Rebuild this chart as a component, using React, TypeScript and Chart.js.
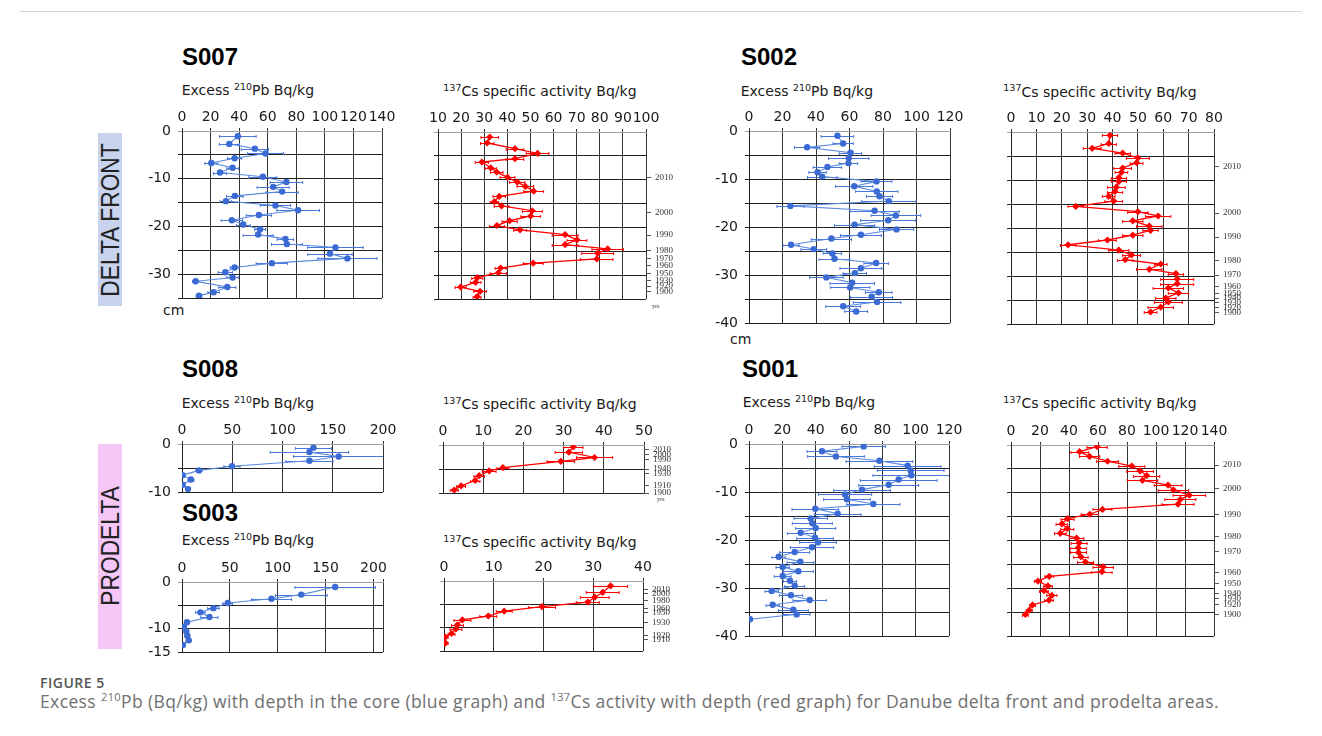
import React, { useEffect, useRef } from 'react';
import { Chart, registerables } from 'chart.js';
Chart.register(...registerables);

// ---------------- DATA ----------------
// S007 (delta front)
const S007_PB_DEPTH = [-1.1,-2.7,-3.7,-4.7,-5.7,-6.7,-7.7,-8.7,-9.6,-10.7,-11.7,-12.7,-13.6,-14.7,-15.6,-16.6,-17.6,-18.7,-19.6,-20.6,-21.7,-22.6,-23.7,-24.4,-25.7,-26.7,-27.7,-28.6,-29.6,-30.7,-31.5,-32.7,-33.8,-34.5];
const S007_PB_VALUE = [39.1,33.1,51.0,58.5,36.8,20.5,35.4,26.6,56.6,73.1,63.8,70.1,37.0,30.7,65.4,81.3,53.8,34.9,42.9,54.7,53.3,72.4,73.4,107.4,103.6,115.8,62.9,36.8,30.3,35.4,9.5,31.7,22.1,11.9];
const S007_PB_ERR = [12.8,7,9.5,12.5,5,4.5,4,4.5,9.8,11.4,11.2,11.3,5.8,4,10.6,14.9,8.8,7.5,4.9,3.8,10.5,5.8,10.8,19.5,15.5,20.7,11,3,5,4,2,6,4,2];
const S007_CS_DEPTH = [-1.05,-2.3,-3.5,-4.5,-5.6,-6.3,-7.5,-8.4,-9.5,-10.5,-11.4,-12.4,-13.5,-14.6,-15.5,-16.5,-17.6,-18.6,-19.6,-20.5,-21.5,-22.6,-23.6,-24.5,-25.4,-26.6,-27.5,-28.5,-29.5,-30.5,-31.5,-32.5,-33.4,-34.5];
const S007_CS_VALUE = [32.4,31.3,43.3,53.1,43.3,29.0,32.8,35.4,40.1,44.3,47.8,51.4,36.5,34.4,37.5,50.8,50.1,41.0,35.5,45.5,65.0,70.1,65.0,83.4,79.1,78.7,51.2,37.1,36.1,27.0,26.3,19.8,28.2,26.9];
const S007_CS_ERR = [3.8,2.9,3.8,4.9,3.8,2.9,2.4,2.7,3.2,3.3,3.6,4.3,2.7,1.8,3.2,4.3,4.2,3.3,3.2,2.7,5.6,4.3,5.6,6.8,6.9,7,4.3,2.4,3.5,2.4,2.3,2.4,2.7,1.7];
const S007_YEARS = ['2010','2000','1990','1980','1970','1960','1950','1930','1920','1900'];
const S007_YEAR_DEPTH = [-9.6,-16.9,-21.6,-24.8,-26.6,-28.0,-29.6,-31.2,-32.3,-33.5];

// S002 (delta front)
const S002_PB_DEPTH = [-1.0,-2.6,-3.4,-4.5,-5.6,-6.7,-7.5,-8.6,-9.5,-10.5,-11.5,-12.6,-13.6,-14.6,-15.6,-16.6,-17.6,-18.6,-19.5,-20.5,-21.6,-22.4,-23.7,-24.6,-25.5,-26.6,-27.5,-28.6,-29.6,-30.5,-31.6,-32.6,-33.6,-34.5,-35.6,-36.5,-37.6];
const S002_PB_VALUE = [52.8,56.2,34.7,60.6,59.6,59.4,46.8,40.9,43.7,76.1,62.8,76.3,77.9,83.5,24.7,75.0,87.7,83.1,63.0,88.1,66.8,49.2,25.1,38.7,49.8,51.0,75.9,66.8,63.2,46.2,61.6,60.4,77.5,73.2,76.5,56.2,64.0];
const S002_PB_ERR = [9.7,6,7.5,6.7,12,5.5,8.5,5.2,8.8,9.2,11.2,12.6,7.8,16.2,8,14.7,14.8,16.4,12,10.2,12.2,12,4.8,7.7,5.5,9.2,7.3,12.5,7,10,13.3,11.8,7.9,12.5,14.2,10.4,6.8];
const S002_CS_DEPTH = [-0.7,-2.4,-3.4,-4.4,-5.4,-6.4,-7.5,-8.4,-9.5,-10.3,-11.5,-12.4,-13.4,-14.4,-15.5,-16.6,-17.5,-18.5,-19.6,-20.5,-21.5,-22.5,-23.5,-24.6,-25.6,-26.6,-27.5,-28.6,-29.5,-30.6,-31.6,-32.5,-33.5,-34.6,-35.4,-36.5,-37.5];
const S002_CS_VALUE = [39,38.5,32,44,50,49.5,44,43.5,42.5,42.5,41.5,41,38.5,40.5,25.5,50,58,48,54.5,55,48,38,22.5,42.5,47.5,45,59,54.5,65,65.5,65.5,62,66,61,62,59,55];
const S002_CS_ERR = [3,3,3.5,3,4.5,2.5,3.5,2.5,3,3,3.5,3,2.5,3.5,3,4,5,4,5,3,4,3.5,3,4,3.5,3,2.5,5,3,6.5,6.5,6,4,4,5.5,5,2.5];
const S002_YEARS = ['2010','2000','1990','1980','1970','1960','1950','1940','1930','1920','1900'];
const S002_YEAR_DEPTH = [-7.2,-16.9,-21.9,-26.8,-29.8,-32.2,-33.6,-34.6,-35.6,-36.6,-37.6];

// S008 (prodelta)
const S008_PB_DEPTH = [-0.76,-1.67,-2.6,-3.5,-4.65,-5.5,-6.5,-7.4,-8.5,-9.4];
const S008_PB_VALUE = [130.8,126.8,155.9,126.8,49.7,16.9,0.7,8.9,0.7,6.0];
const S008_PB_ERR = [18,39,45,23.5,8,3,1,3,1,1];
const S008_CS_DEPTH = [-0.4,-1.5,-2.6,-3.4,-4.7,-5.4,-6.4,-7.4,-8.5,-9.4];
const S008_CS_VALUE = [32.4,31.3,37.7,29.3,14.9,11.5,9.0,8.0,4.5,2.8];
const S008_CS_ERR = [2.4,3.4,4.5,3.4,1.5,1.7,1.3,1.2,1.1,1.0];
const S008_YEARS = ['2010','2000','1990','1940','1930','1910','1900'];
const S008_YEAR_DEPTH = [-1.0,-2.0,-3.1,-5.0,-6.0,-8.4,-10.0];

// S003 (prodelta)
const S003_PB_DEPTH = [-1.06,-2.7,-3.6,-4.5,-5.6,-6.5,-7.5,-8.6,-9.6,-10.6,-11.5,-12.5,-13.5];
const S003_PB_VALUE = [160,124.6,93.5,47.8,32.8,19.2,28.6,5.2,2.1,4.5,5.6,7.0,1.0];
const S003_PB_ERR = [42,27,21,5,6,5,9,2,1.5,2,2.5,2.5,1];
const S003_CS_DEPTH = [-1.04,-2.43,-3.47,-4.51,-5.49,-6.46,-7.5,-8.33,-9.38,-10.28,-11.25,-12.0,-13.3];
const S003_CS_VALUE = [33.5,31.9,30.3,28.9,19.7,12.1,8.9,3.7,2.7,2.4,1.5,0.3,0.3];
const S003_CS_ERR = [3.4,3.3,2.9,2.3,2.7,1.6,1.7,1.7,1.2,1.2,0.7,0.5,0.5];
const S003_YEARS = ['2010','2000','1980','1960','1950','1930','1920','1910'];
const S003_YEAR_DEPTH = [-1.9,-2.7,-4.2,-5.9,-6.7,-8.9,-11.7,-12.5];

// S001 (prodelta)
const S001_PB_DEPTH = [-0.5,-1.5,-2.6,-3.5,-4.5,-5.5,-6.5,-7.4,-8.5,-9.5,-10.5,-11.5,-12.5,-13.5,-14.5,-15.5,-16.5,-17.5,-18.5,-19.5,-20.5,-21.5,-22.5,-23.5,-24.5,-25.6,-26.5,-27.5,-28.5,-29.5,-30.6,-31.5,-32.5,-33.5,-34.5,-35.5,-36.5];
const S001_PB_VALUE = [68.8,43.8,52.2,78.2,95.2,97.0,97.4,89.8,83.8,67.8,57.6,58.8,74.6,39.8,53.2,37.0,38.0,40.0,31.0,39.6,41.4,37.8,27.4,17.8,30.8,20.2,29.6,20.2,24.6,27.4,13.6,25.2,36.4,14.2,26.6,28.6,0.6];
const S001_PB_ERR = [13,9,17,20,20,20,23,23,18,17,16,14,16,14,14,10,12,12,8,11,11,13,9,4,8,4,9,5,4,6,4,7,10,4,9,8,1];
const S001_CS_DEPTH = [-0.35,-1.4,-2.4,-3.4,-4.4,-5.4,-6.4,-7.4,-8.4,-9.4,-10.5,-11.4,-12.4,-13.5,-14.5,-15.4,-16.5,-17.5,-18.5,-19.5,-20.5,-21.5,-22.5,-23.4,-24.5,-25.5,-26.5,-27.5,-28.5,-29.5,-30.5,-31.5,-32.5,-33.5,-34.6,-35.5];
const S001_CS_VALUE = [59.4,47.3,54.2,66.6,83.3,89.0,93.6,90.7,108.3,112.0,123.0,116.8,115.2,63.1,54.4,39.0,35.1,38.8,34.0,45.2,47.0,46.4,46.6,48.2,51.4,63.6,62.7,26.4,18.6,25.5,22.7,28.2,26.2,14.9,12.6,9.9];
const S001_CS_ERR = [7,6,7,7.5,9,9.2,9,10.5,9.5,10.5,11.2,10.7,11,6.5,6,4.5,4,4.5,4,5,5.5,5.5,5.5,5,5.5,7,7,3,2.5,3,3,3.5,3,2,2,2];
const S001_YEARS = ['2010','2000','1990','1980','1970','1960','1950','1940','1930','1920','1900'];
const S001_YEAR_DEPTH = [-4.2,-9.2,-14.5,-19.1,-22.4,-26.7,-29.0,-31.1,-32.2,-33.4,-35.6];

// axis tick labels
const X_PB_140 = [0,20,40,60,80,100,120,140];
const X_PB_120 = [0,20,40,60,80,100,120];
const X_PB_200 = [0,50,100,150,200];
const X_CS_S007 = [10,20,30,40,50,60,70,80,90,100];
const X_CS_S002 = [0,10,20,30,40,50,60,70,80];
const X_CS_S008 = [0,10,20,30,40,50];
const X_CS_S003 = [0,10,20,30,40];
const X_CS_S001 = [0,20,40,60,80,100,120,140];
const Y_LABELS_35 = [0,-10,-20,-30];
const Y_LABELS_40 = [0,-10,-20,-30,-40];
const Y_LABELS_10 = [0,-10];
const Y_LABELS_15 = [0,-10,-15];

// ---------------- CHART ----------------
type PanelCfg = {
  l: number; t: number; w: number; h: number;
  xMin: number; xMax: number; xTicks: number[];
  yMin: number; yLabels: number[];
  depth: number[]; value: number[]; err: number[];
  kind: 'pb' | 'cs';
  years?: string[]; yearDepth?: number[];
};

const LW = 45, TH = 30, BH = 8;

const errorBarPlugin = {
  id: 'hErrBars',
  beforeDatasetsDraw(chart: any) {
    const { ctx, chartArea, scales } = chart;
    ctx.save();
    ctx.beginPath();
    ctx.rect(chartArea.left, chartArea.top - 2, chartArea.width, chartArea.height + 4);
    ctx.clip();
    chart.data.datasets.forEach((ds: any) => {
      if (!ds.errs) return;
      ctx.strokeStyle = ds.errColor;
      ctx.lineWidth = 1;
      ds.data.forEach((p: any, i: number) => {
        const e = ds.errs[i];
        const y = Math.round(scales.y.getPixelForValue(p.y)) + 0.5;
        const x1 = scales.x.getPixelForValue(p.x - e);
        const x2 = scales.x.getPixelForValue(p.x + e);
        ctx.beginPath();
        ctx.moveTo(x1, y); ctx.lineTo(x2, y);
        ctx.moveTo(x1, y - 1.5); ctx.lineTo(x1, y + 1.5);
        ctx.moveTo(x2, y - 1.5); ctx.lineTo(x2, y + 1.5);
        ctx.stroke();
      });
    });
    ctx.restore();
  },
};

function Panel({ c }: { c: PanelCfg }) {
  const ref = useRef<HTMLCanvasElement>(null);
  const RW = c.years ? 52 : 28;
  const cw = Math.round(LW + c.w + RW);
  const ch = Math.round(TH + c.h + BH);
  useEffect(() => {
    const isPb = c.kind === 'pb';
    const pointColor = isPb ? '#3a6ad2' : '#ff0000';
    const lineColor = isPb ? '#5a8ae0' : '#ff0000';
    const yGrid: number[] = [];
    for (let v = 0; v >= c.yMin; v -= 5) yGrid.push(v);
    if (yGrid[yGrid.length - 1] !== c.yMin) yGrid.push(c.yMin);
    const xGrid = Array.from(new Set([c.xMin, ...c.xTicks, c.xMax])).sort((a, b) => a - b);
    const tickFont = { family: 'DejaVu Sans', size: 14 };
    const scales: any = {
      x: {
        type: 'linear', position: 'top', min: c.xMin, max: c.xMax,
        afterBuildTicks: (ax: any) => { ax.ticks = xGrid.map((v) => ({ value: v })); },
        afterFit: (ax: any) => { ax.height = TH; ax.paddingLeft = 0; ax.paddingRight = 0; },
        ticks: {
          autoSkip: false, maxRotation: 0, minRotation: 0, padding: 2, color: '#1a1a1a', font: tickFont,
          callback: (v: any) => (c.xTicks.includes(v) ? String(v) : ''),
        },
        grid: { color: '#333', lineWidth: 1, tickLength: 3, drawTicks: true },
        border: { color: '#a0a0a0', width: 1 },
      },
      y: {
        type: 'linear', position: 'left', min: c.yMin, max: 0,
        afterBuildTicks: (ax: any) => { ax.ticks = yGrid.map((v) => ({ value: v })); },
        afterFit: (ax: any) => { ax.width = LW; ax.paddingTop = 0; ax.paddingBottom = 0; },
        ticks: {
          autoSkip: false, padding: 7, color: '#1a1a1a', font: tickFont,
          callback: (v: any) => (c.yLabels.includes(v) ? String(v) : ''),
        },
        grid: {
          color: (ctx: any) => (ctx.tick && ctx.tick.value === 0 ? '#a0a0a0' : '#222'),
          lineWidth: 1, tickLength: 4,
        },
        border: { color: '#222', width: 1 },
      },
    };
    if (c.years && c.yearDepth) {
      const yd = c.yearDepth, yl = c.years;
      scales.yr = {
        type: 'linear', position: 'right', min: c.yMin, max: 0,
        afterBuildTicks: (ax: any) => { ax.ticks = yd.map((v) => ({ value: v })); },
        afterFit: (ax: any) => { ax.width = RW; ax.paddingTop = 0; ax.paddingBottom = 0; },
        ticks: {
          autoSkip: false, padding: 4, color: '#333', font: { family: 'Liberation Serif', size: 9 },
          callback: (_v: any, i: number) => yl[i],
        },
        grid: { drawOnChartArea: false, color: '#555', tickLength: 5, lineWidth: 1 },
        border: { display: false },
      };
    }
    const chart = new Chart(ref.current as HTMLCanvasElement, {
      type: 'scatter',
      data: {
        datasets: [
          {
            data: c.depth.map((d, i) => ({ x: c.value[i], y: d })),
            showLine: true,
            borderColor: lineColor,
            borderWidth: isPb ? 1.1 : 1.3,
            pointStyle: isPb ? 'circle' : 'rectRot',
            pointRadius: isPb ? 3.2 : 3.6,
            pointBackgroundColor: pointColor,
            pointBorderColor: pointColor,
            pointBorderWidth: 0,
            xAxisID: 'x',
            yAxisID: 'y',
            errs: c.err,
            errColor: isPb ? '#4a78d8' : '#ff0000',
          } as any,
        ],
      },
      options: {
        responsive: false,
        animation: false,
        events: [],
        devicePixelRatio: 1,
        layout: { padding: { left: 0, top: 0, right: c.years ? 0 : RW, bottom: BH } },
        plugins: { legend: { display: false }, tooltip: { enabled: false } },
        scales,
      } as any,
      plugins: [errorBarPlugin],
    });
    return () => chart.destroy();
  }, []);
  return (
    <canvas
      ref={ref}
      width={cw}
      height={ch}
      style={{ position: 'absolute', left: c.l - LW, top: c.t - TH, width: cw, height: ch }}
    />
  );
}

const PANELS: PanelCfg[] = [
  { l: 182.3, t: 130.7, w: 200.4, h: 167, xMin: 0, xMax: 140, xTicks: X_PB_140, yMin: -35, yLabels: Y_LABELS_35,
    depth: S007_PB_DEPTH, value: S007_PB_VALUE, err: S007_PB_ERR, kind: 'pb' },
  { l: 437.7, t: 131.7, w: 208, h: 167.3, xMin: 10, xMax: 100, xTicks: X_CS_S007, yMin: -35, yLabels: [],
    depth: S007_CS_DEPTH, value: S007_CS_VALUE, err: S007_CS_ERR, kind: 'cs', years: S007_YEARS, yearDepth: S007_YEAR_DEPTH },
  { l: 749.3, t: 131, w: 200.7, h: 191.7, xMin: 0, xMax: 120, xTicks: X_PB_120, yMin: -40, yLabels: Y_LABELS_40,
    depth: S002_PB_DEPTH, value: S002_PB_VALUE, err: S002_PB_ERR, kind: 'pb' },
  { l: 1010.7, t: 131.7, w: 202.6, h: 191.5, xMin: 0, xMax: 80, xTicks: X_CS_S002, yMin: -40, yLabels: [],
    depth: S002_CS_DEPTH, value: S002_CS_VALUE, err: S002_CS_ERR, kind: 'cs', years: S002_YEARS, yearDepth: S002_YEAR_DEPTH },
  { l: 182, t: 444.3, w: 201.3, h: 48, xMin: 0, xMax: 200, xTicks: X_PB_200, yMin: -10, yLabels: Y_LABELS_10,
    depth: S008_PB_DEPTH, value: S008_PB_VALUE, err: S008_PB_ERR, kind: 'pb' },
  { l: 443.3, t: 444.7, w: 200.7, h: 47.6, xMin: 0, xMax: 50, xTicks: X_CS_S008, yMin: -10, yLabels: [],
    depth: S008_CS_DEPTH, value: S008_CS_VALUE, err: S008_CS_ERR, kind: 'cs', years: S008_YEARS, yearDepth: S008_YEAR_DEPTH },
  { l: 182.3, t: 581.7, w: 201, h: 70, xMin: 0, xMax: 210, xTicks: X_PB_200, yMin: -15, yLabels: Y_LABELS_15,
    depth: S003_PB_DEPTH, value: S003_PB_VALUE, err: S003_PB_ERR, kind: 'pb' },
  { l: 444, t: 581, w: 198.7, h: 70, xMin: 0, xMax: 40, xTicks: X_CS_S003, yMin: -15, yLabels: [],
    depth: S003_CS_DEPTH, value: S003_CS_VALUE, err: S003_CS_ERR, kind: 'cs', years: S003_YEARS, yearDepth: S003_YEAR_DEPTH },
  { l: 749.3, t: 444.3, w: 200, h: 192, xMin: 0, xMax: 120, xTicks: X_PB_120, yMin: -40, yLabels: Y_LABELS_40,
    depth: S001_PB_DEPTH, value: S001_PB_VALUE, err: S001_PB_ERR, kind: 'pb' },
  { l: 1010.7, t: 445, w: 203.3, h: 190.9, xMin: 0, xMax: 140, xTicks: X_CS_S001, yMin: -40, yLabels: [],
    depth: S001_CS_DEPTH, value: S001_CS_VALUE, err: S001_CS_ERR, kind: 'cs', years: S001_YEARS, yearDepth: S001_YEAR_DEPTH },
];

// ---------------- TEXT ----------------
function Txt(props: { x: number; base: number; size: number; family?: string; weight?: number; color?: string; asc?: number; ls?: number; children: any }) {
  const { x, base, size, family = 'DejaVu Sans', weight = 400, color = '#1a1a1a', asc = 0.846, ls = 0, children } = props;
  return (
    <div style={{ position: 'absolute', left: x, top: base - asc * size, fontSize: size, fontFamily: family, fontWeight: weight, color, lineHeight: 1, whiteSpace: 'nowrap', letterSpacing: ls }}>
      {children}
    </div>
  );
}
function Sup({ children, size = 9.5, raise = 5.5 }: { children: any; size?: number; raise?: number }) {
  return <span style={{ fontSize: size, position: 'relative', top: -raise }}>{children}</span>;
}
const PbTitle = () => (<>Excess <Sup>210</Sup>Pb Bq/kg</>);
const CsTitle = () => (<><Sup>137</Sup>Cs specific activity Bq/kg</>);

function SideLabel({ cx, cy, boxTop, boxH, bg, text }: { cx: number; cy: number; boxTop: number; boxH: number; bg: string; text: string }) {
  return (
    <>
      <div style={{ position: 'absolute', left: 98, top: boxTop, width: 24, height: boxH, background: bg }} />
      <div style={{ position: 'absolute', left: cx, top: cy, width: 0, height: 0 }}>
        <div style={{ position: 'absolute', left: 0, top: 0, fontFamily: 'Liberation Sans', fontSize: 25, lineHeight: 1, color: '#222', whiteSpace: 'nowrap', transform: 'translate(-50%, -50%) rotate(-90deg) scaleX(0.91)' }}>
          {text}
        </div>
      </div>
    </>
  );
}

export default function App() {
  const titleFont = 'Liberation Sans';
  return (
    <div style={{ position: 'absolute', left: 0, top: 0, width: 1322, height: 736, background: '#fff', overflow: 'hidden' }}>
      <div style={{ position: 'absolute', left: 20, top: 11, width: 1282, height: 1, background: '#d6d6d6' }} />

      <SideLabel cx={110} cy={219.5} boxTop={133} boxH={173} bg="#c8d3ee" text="DELTA FRONT" />
      <SideLabel cx={110} cy={546} boxTop={444} boxH={205} bg="#f5c7f6" text="PRODELTA" />

      <Txt x={182} base={65} size={24} family={titleFont} weight={700} color="#000">S007</Txt>
      <Txt x={741} base={65} size={24} family={titleFont} weight={700} color="#000">S002</Txt>
      <Txt x={182} base={377} size={24} family={titleFont} weight={700} color="#000">S008</Txt>
      <Txt x={742} base={377} size={24} family={titleFont} weight={700} color="#000">S001</Txt>
      <Txt x={182} base={521} size={24} family={titleFont} weight={700} color="#000">S003</Txt>

      <Txt x={181.7} base={95} size={14}><PbTitle /></Txt>
      <Txt x={443.3} base={96} size={14}><CsTitle /></Txt>
      <Txt x={740.7} base={96} size={14}><PbTitle /></Txt>
      <Txt x={1003.3} base={96.5} size={14}><CsTitle /></Txt>
      <Txt x={181.7} base={408} size={14}><PbTitle /></Txt>
      <Txt x={443.3} base={409} size={14}><CsTitle /></Txt>
      <Txt x={742.7} base={407} size={14}><PbTitle /></Txt>
      <Txt x={1003.3} base={408} size={14}><CsTitle /></Txt>
      <Txt x={181.7} base={545} size={14}><PbTitle /></Txt>
      <Txt x={443.3} base={547} size={14}><CsTitle /></Txt>

      <Txt x={163} base={315} size={14}>cm</Txt>
      <Txt x={730} base={344} size={14}>cm</Txt>
      <Txt x={652} base={308} size={6} family="Liberation Serif" color="#333">yrs</Txt>
      <Txt x={657} base={501} size={6} family="Liberation Serif" color="#333">yrs</Txt>

      {PANELS.map((p, i) => (<Panel key={i} c={p} />))}

      <Txt x={40} base={688} size={14} family="Open Sans" weight={600} color="#555" asc={0.888} ls={0.5}>FIGURE 5</Txt>
      <Txt x={40} base={709} size={17.5} family="Open Sans" color="#707070" asc={0.888} ls={0.38}>
        Excess <Sup size={11} raise={7}>210</Sup>Pb (Bq/kg) with depth in the core (blue graph) and <Sup size={11} raise={7}>137</Sup>Cs activity with depth (red graph) for Danube delta front and prodelta areas.
      </Txt>
    </div>
  );
}
